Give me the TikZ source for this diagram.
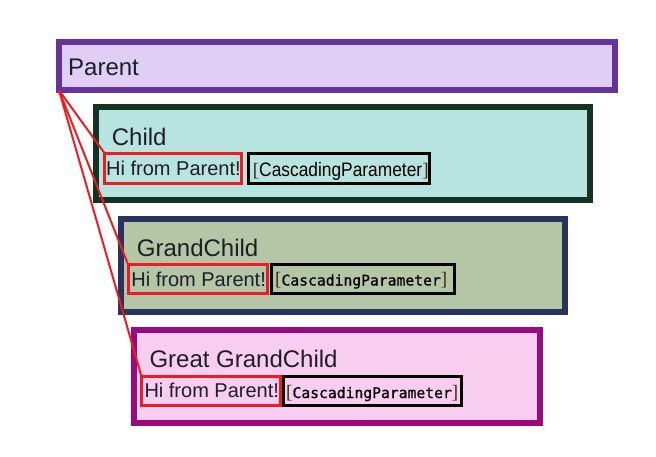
\documentclass[tikz,border=0pt]{standalone}
\usepackage{fontspec}
\usepackage{graphicx}
\newfontfamily\lsans{Liberation Sans}
\newfontfamily\dmono[FakeBold=0.8]{DejaVu Sans Mono}
\newfontfamily\lserif{Liberation Serif}
\definecolor{txt}{RGB}{30,30,40}
\definecolor{pfill}{RGB}{224,206,245}
\definecolor{pdraw}{RGB}{102,51,153}
\definecolor{cfill}{RGB}{184,228,223}
\definecolor{cdraw}{RGB}{20,51,35}
\definecolor{gfill}{RGB}{180,198,166}
\definecolor{gdraw}{RGB}{41,51,92}
\definecolor{ggfill}{RGB}{248,206,240}
\definecolor{ggdraw}{RGB}{155,10,125}
\definecolor{redl}{RGB}{237,28,36}
\definecolor{brk}{RGB}{60,40,20}
\tikzset{
  bigbox/.style={draw, line width=6pt, inner sep=0pt, outer sep=0pt},
  redbox/.style={draw=redl, line width=3pt, inner sep=0pt, outer sep=0pt},
  blackbox/.style={draw=black, line width=3pt, inner sep=0pt, outer sep=0pt},
  title/.style={anchor=base west, inner sep=0pt, text=txt, font=\lsans\fontsize{24}{28}\selectfont},
  hi/.style={anchor=base west, inner sep=0pt, text=txt, font=\lsans\fontsize{20}{24}\selectfont},
  param/.style={anchor=base west, inner sep=0pt, text=black},
  link/.style={draw=redl, line width=2pt}
}
\newcommand{\monoparam}{{\lserif\fontsize{19}{22}\selectfont\color{brk}[}{\dmono\fontsize{14.7}{18}\selectfont CascadingParameter}{\lserif\fontsize{19}{22}\selectfont\color{brk}]}}
\newcommand{\sansparam}{{\lserif\fontsize{19}{22}\selectfont\color{brk}[}\scalebox{0.89}[1]{\lsans\fontsize{19.5}{22}\selectfont CascadingParameter}{\lserif\fontsize{19}{22}\selectfont\color{brk}]}}
\begin{document}
\begin{tikzpicture}[x=1pt,y=-1pt]
\useasboundingbox (0,0) rectangle (656,457);
% big boxes
\node[bigbox, draw=pdraw, fill=pfill, minimum width=556pt, minimum height=48pt] (parent) at (337,66.3) {};
\node[bigbox, draw=cdraw, fill=cfill, minimum width=494pt, minimum height=92.7pt] (child) at (342.7,153.35) {};
\node[bigbox, draw=gdraw, fill=gfill, minimum width=444pt, minimum height=93pt] (grand) at (343,265.5) {};
\node[bigbox, draw=ggdraw, fill=ggfill, minimum width=406.3pt, minimum height=92.7pt] (great) at (337.2,376.7) {};
% titles
\node[title] (tparent) at (68,75.7) {Parent};
\node[title] (tchild) at (111.7,145.7) {Child};
\node[title] (tgrand) at (136.7,256) {GrandChild};
\node[title] (tgreat) at (149.3,367.7) {Great GrandChild};
% red and black boxes
\node[redbox, minimum width=137pt, minimum height=30pt] (rc) at (173.3,168.5) {};
\node[blackbox, minimum width=181pt, minimum height=30pt] (bc) at (338.7,168.5) {};
\node[redbox, minimum width=139pt, minimum height=28.7pt] (rg) at (197.7,279.15) {};
\node[blackbox, minimum width=183pt, minimum height=28.7pt] (bg) at (363,279.15) {};
\node[redbox, minimum width=138.7pt, minimum height=28.7pt] (rgg) at (210.85,390.85) {};
\node[blackbox, minimum width=178pt, minimum height=28.7pt] (bgg) at (372.2,390.85) {};
% texts
\node[hi] (hc) at (106,176) {Hi from Parent!};
\node[hi] (hg) at (131.2,286) {Hi from Parent!};
\node[hi] (hgg) at (144.3,397.7) {Hi from Parent!};
\node[param] (pc) at (252.7,176.5) {\sansparam};
\node[param] (pg) at (275,285.5) {\monoparam};
\node[param] (pgg) at (286,398) {\monoparam};
% links
\draw[link] (parent.south west) -- (rc.north west);
\draw[link] (parent.south west) -- (rg.north west);
\draw[link] (parent.south west) -- (rgg.north west);
\end{tikzpicture}
\end{document}
